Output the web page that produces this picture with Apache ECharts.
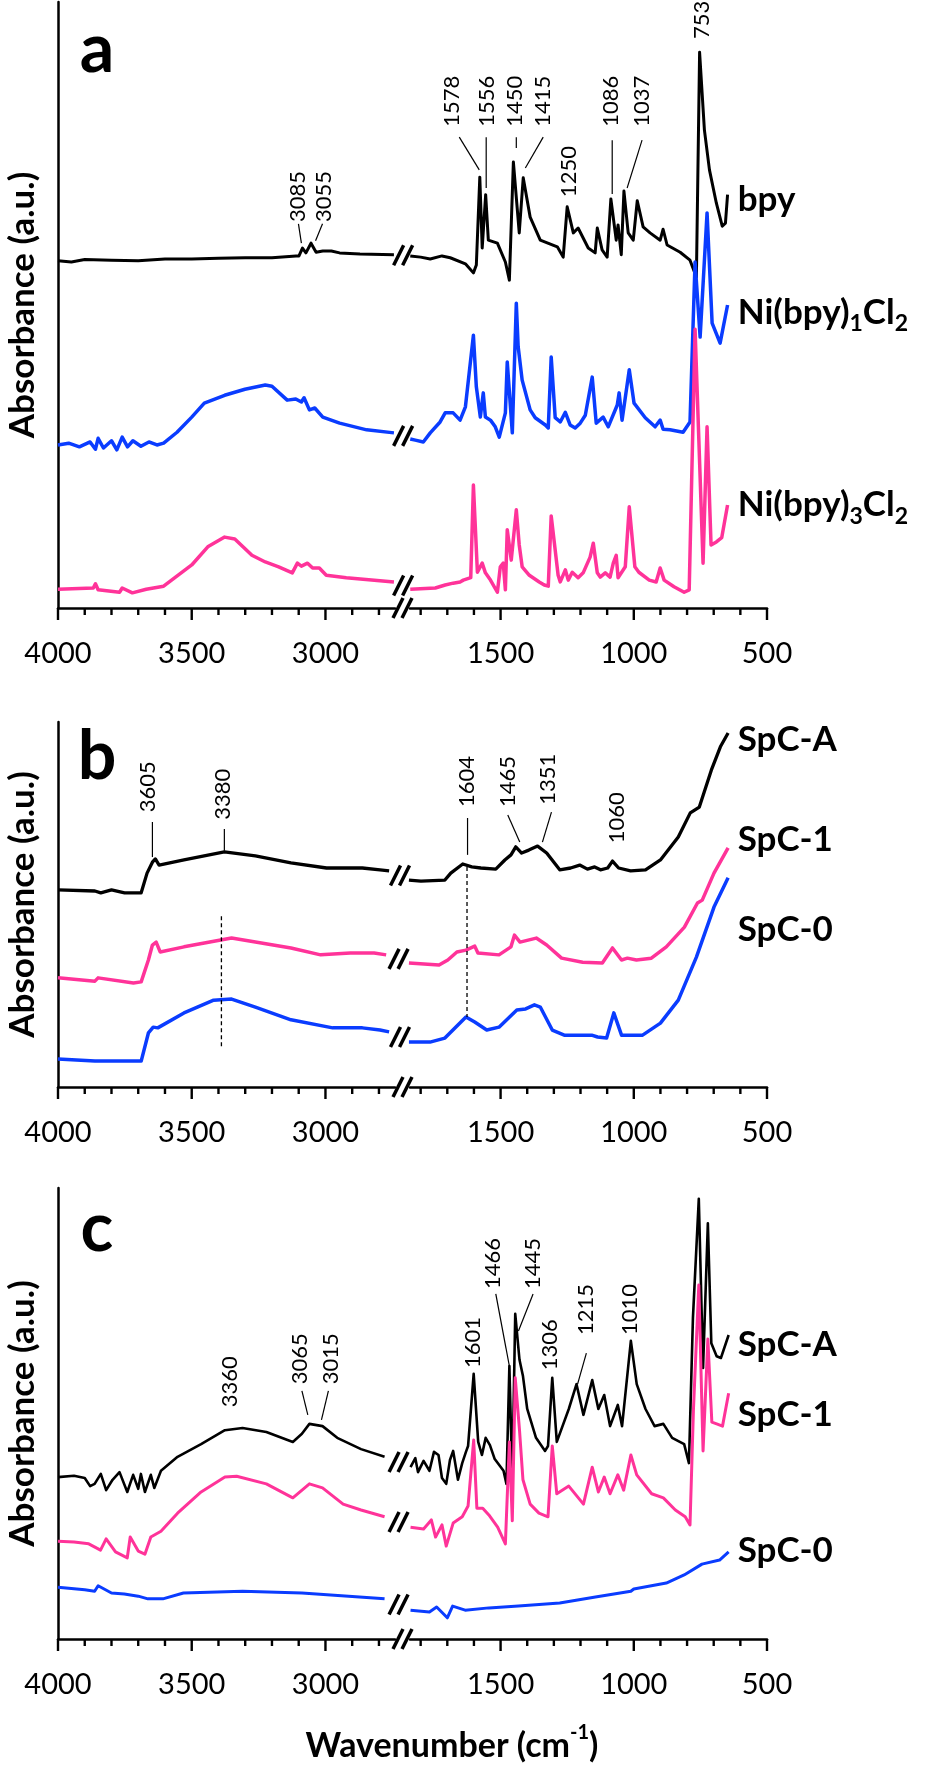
<!DOCTYPE html>
<html>
<head>
<meta charset="utf-8">
<script src="https://cdn.jsdelivr.net/npm/echarts@6/dist/echarts.min.js"></script>
<style>
  html, body { margin: 0; padding: 0; background: #fff; }
  #main { width: 945px; height: 1767px; }
</style>
</head>
<body>
<div id="main"></div>
<script>
// x axis: wavenumber (cm-1), broken between 2740 and 1840
var leftRange = [2740, 4000];
var rightRange = [500, 1840];
var leftLabels = [4000, 3500, 3000];
var leftTicks = [4000, 3900, 3800, 3700, 3600, 3500, 3400, 3300, 3200, 3100, 3000, 2900, 2800];
var rightLabels = [1500, 1000, 500];
var rightTicks = [1800, 1700, 1600, 1500, 1400, 1300, 1200, 1100, 1000, 900, 800, 700, 600, 500];

// ---- panel a (absorbance, a.u.) ----
var bpyLeft = [[4000,57.3],[3950,57.1],[3900,57.5],[3800,57.4],[3700,57.3],[3600,57.6],[3500,57.6],[3400,57.7],[3300,57.8],[3200,57.8],[3110,58.1],[3099,58.1],[3086,59.4],[3073,58.6],[3054,60.2],[3035,58.7],[3010,58.9],[2978,58.9],[2947,58.6],[2871,58.4],[2744,58.3]];
var bpyRight = [[1839,58.1],[1800,57.9],[1764,57.6],[1720,58.1],[1689,57.8],[1632,56.8],[1602,55.3],[1591,56.6],[1578,71.1],[1569,59.4],[1556,68.2],[1546,60.7],[1512,60.2],[1482,57.1],[1467,54.1],[1452,73.6],[1430,61.9],[1415,71.0],[1389,64.5],[1351,60.7],[1287,59.6],[1265,57.9],[1250,66.2],[1227,61.9],[1209,62.7],[1171,59.4],[1145,58.6],[1137,62.7],[1119,59.1],[1100,57.9],[1086,67.5],[1066,60.7],[1059,63.2],[1047,58.3],[1037,68.8],[1021,61.9],[1002,60.7],[987,67.2],[965,62.9],[939,61.9],[901,60.7],[890,62.5],[875,59.9],[826,58.7],[789,57.4],[765,54.6],[753,91.7],[735,78.9],[716,72.3],[690,66.8],[668,63.0],[656,63.5],[648,68.2]];
var ni1Left = [[4000,26.9],[3960,27.2],[3920,26.6],[3880,27.4],[3860,26.2],[3850,28.0],[3830,26.4],[3800,27.6],[3780,26.1],[3760,28.2],[3740,26.6],[3720,27.6],[3690,26.7],[3660,27.4],[3630,26.9],[3605,27.2],[3555,29.0],[3500,31.5],[3453,33.8],[3377,35.1],[3301,36.1],[3225,36.8],[3200,36.6],[3143,34.3],[3111,34.5],[3090,34.0],[3080,34.7],[3060,32.7],[3040,33.0],[3010,31.5],[2947,30.5],[2846,29.4],[2744,28.9]];
var ni1Right = [[1839,27.9],[1820,27.7],[1790,27.4],[1764,28.9],[1727,30.7],[1708,32.2],[1678,32.2],[1652,31.0],[1632,33.2],[1602,45.0],[1591,36.5],[1576,31.5],[1565,35.5],[1557,31.5],[1538,31.0],[1520,29.9],[1505,28.2],[1482,32.2],[1475,40.6],[1456,28.9],[1441,50.3],[1434,43.1],[1419,37.6],[1389,32.7],[1370,31.4],[1332,30.2],[1321,29.7],[1310,41.4],[1295,31.4],[1276,30.7],[1257,32.3],[1239,30.2],[1220,29.7],[1201,30.5],[1182,31.8],[1156,38.1],[1141,30.5],[1115,31.5],[1096,29.9],[1062,33.5],[1055,35.5],[1044,31.0],[1017,39.3],[999,33.8],[957,31.4],[920,29.9],[901,31.0],[890,29.5],[864,29.4],[815,29.0],[789,30.7],[770,57.1],[751,44.7],[725,65.2],[706,47.0],[676,43.7],[648,50.0]];
var ni3Left = [[4000,3.1],[3868,3.3],[3860,4.0],[3850,3.0],[3770,2.6],[3760,3.3],[3722,2.5],[3670,3.1],[3605,3.6],[3500,7.1],[3440,10.1],[3377,11.7],[3339,11.4],[3275,8.7],[3225,7.6],[3175,6.8],[3124,5.8],[3105,7.4],[3090,6.9],[3067,7.4],[3048,6.6],[3023,6.6],[2997,5.4],[2922,5.0],[2744,4.3]];
var ni3Right = [[1839,3.1],[1745,3.3],[1708,3.8],[1678,4.1],[1652,4.3],[1640,4.6],[1612,5.0],[1602,20.3],[1587,5.9],[1569,7.4],[1557,5.8],[1538,4.6],[1512,2.6],[1501,6.8],[1490,7.4],[1482,3.0],[1475,12.9],[1460,7.9],[1441,16.2],[1430,10.4],[1419,6.8],[1392,5.4],[1355,4.3],[1336,3.8],[1321,3.6],[1310,15.2],[1284,5.4],[1276,4.3],[1257,6.3],[1246,4.6],[1231,5.9],[1209,5.0],[1190,5.8],[1164,8.4],[1152,10.7],[1137,5.8],[1126,5.1],[1107,5.8],[1089,5.1],[1077,7.4],[1066,8.7],[1059,5.0],[1032,6.8],[1017,16.7],[996,6.8],[981,5.9],[942,4.6],[916,4.3],[901,6.6],[886,4.6],[849,3.5],[811,2.6],[792,3.0],[770,46.0],[740,7.4],[725,29.9],[710,10.4],[690,10.9],[670,11.6],[648,17.0]];

// ---- panel b ----
var bALeft = [[4000,54.0],[3862,53.7],[3840,53.2],[3800,54.0],[3751,53.2],[3689,53.2],[3667,58.6],[3647,61.6],[3636,62.5],[3622,60.8],[3529,62.2],[3378,64.4],[3262,63.3],[3129,61.4],[2996,60.0],[2862,60.0],[2796,59.5],[2762,59.2]];
var bARight = [[1844,56.7],[1799,56.4],[1709,56.7],[1687,58.6],[1642,61.1],[1608,60.3],[1574,60.0],[1518,59.7],[1484,62.2],[1461,63.6],[1443,65.8],[1421,64.1],[1394,64.9],[1361,66.0],[1327,64.1],[1278,59.5],[1237,60.0],[1203,60.8],[1174,59.7],[1147,60.3],[1125,59.5],[1098,60.0],[1080,61.9],[1057,60.0],[1012,59.2],[956,59.5],[900,62.2],[833,68.5],[788,75.1],[754,76.7],[709,86.8],[675,93.2],[646,97.0]];
var b1Left = [[4000,29.9],[3862,29.0],[3850,29.9],[3718,28.5],[3689,28.8],[3662,34.8],[3647,38.9],[3633,39.7],[3618,37.0],[3529,38.4],[3351,40.8],[3262,39.7],[3129,38.1],[3018,36.2],[2907,36.7],[2818,36.7],[2773,36.2]];
var b1Right = [[1844,34.0],[1731,33.4],[1698,34.8],[1664,37.0],[1630,37.5],[1597,38.6],[1585,36.7],[1506,36.2],[1461,38.4],[1448,41.6],[1427,39.7],[1366,40.8],[1327,38.9],[1271,35.3],[1192,34.2],[1118,34.0],[1080,38.1],[1046,34.8],[1024,35.3],[990,34.8],[934,35.3],[878,38.4],[810,43.8],[761,50.4],[743,51.2],[699,58.6],[646,65.5]];
var b0Left = [[4000,7.7],[3862,7.1],[3751,7.1],[3689,7.1],[3662,14.8],[3644,16.4],[3627,16.2],[3529,20.3],[3418,23.8],[3351,24.1],[3262,21.9],[3129,18.4],[2973,16.2],[2862,16.2],[2796,15.6],[2762,15.1]];
var b0Right = [[1844,12.3],[1765,12.3],[1709,13.4],[1630,19.2],[1597,17.8],[1552,15.6],[1506,16.4],[1439,21.1],[1406,21.4],[1373,22.5],[1351,21.9],[1306,15.6],[1261,14.2],[1192,14.2],[1158,14.2],[1136,13.7],[1102,13.4],[1075,20.3],[1046,14.2],[967,14.2],[900,17.5],[833,23.8],[765,35.6],[699,49.3],[646,57.3]];

// ---- panel c ----
var cALeft = [[4000,35.9],[3940,36.2],[3900,35.7],[3880,33.9],[3863,34.4],[3840,36.6],[3820,33.0],[3796,35.3],[3770,37.0],[3741,32.6],[3719,36.4],[3700,33.3],[3690,36.6],[3675,32.6],[3653,36.4],[3640,33.5],[3615,37.3],[3553,40.4],[3465,43.2],[3376,46.3],[3310,46.8],[3221,45.9],[3122,43.7],[3088,45.5],[3060,47.7],[3011,47.2],[2956,44.6],[2867,42.1],[2779,40.4]];
var cARight = [[1838,38.1],[1820,40.1],[1810,37.0],[1789,39.5],[1767,37.3],[1750,41.5],[1733,40.8],[1720,35.7],[1704,34.4],[1690,39.7],[1678,41.7],[1660,35.3],[1644,39.0],[1630,41.5],[1622,42.8],[1601,58.8],[1584,43.7],[1570,40.8],[1556,44.6],[1540,43.0],[1522,39.9],[1489,37.3],[1478,34.4],[1467,60.5],[1456,35.3],[1445,72.1],[1429,61.9],[1416,58.3],[1400,51.0],[1367,44.6],[1333,41.7],[1322,42.8],[1306,57.9],[1289,43.7],[1244,51.0],[1215,56.5],[1189,49.7],[1156,57.4],[1133,51.0],[1111,54.1],[1089,47.2],[1060,51.9],[1044,47.2],[1011,66.1],[989,56.5],[956,51.0],[922,47.2],[889,47.7],[856,44.6],[811,43.2],[793,39.0],[778,71.2],[756,97.6],[740,60.1],[722,92.2],[709,65.6],[689,62.7],[673,62.3],[644,67.4]];
var c1Left = [[4000,21.7],[3940,21.5],[3885,21.1],[3841,19.7],[3820,22.2],[3785,19.3],[3741,18.0],[3730,22.6],[3700,19.5],[3675,18.8],[3653,22.6],[3615,23.9],[3553,27.9],[3465,32.6],[3376,35.9],[3332,36.1],[3221,34.4],[3122,31.3],[3060,34.4],[3011,33.5],[2934,29.9],[2867,28.6],[2779,27.1]];
var c1Right = [[1838,24.8],[1789,24.4],[1760,26.4],[1744,22.6],[1720,25.3],[1704,20.6],[1678,25.7],[1644,27.1],[1622,29.5],[1601,44.1],[1589,29.0],[1567,29.0],[1544,27.5],[1511,24.8],[1482,21.1],[1467,43.7],[1456,26.2],[1445,57.9],[1429,46.3],[1416,35.3],[1389,29.9],[1356,27.9],[1322,27.1],[1306,42.8],[1289,32.2],[1244,33.9],[1189,29.9],[1156,38.1],[1133,32.6],[1111,35.9],[1089,32.2],[1060,36.4],[1038,33.0],[1011,40.8],[989,36.4],[933,32.2],[889,31.3],[844,28.6],[807,27.1],[789,25.3],[776,51.0],[756,78.5],[740,41.7],[722,66.5],[707,48.1],[689,47.7],[667,47.2],[644,54.5]];
var c0Left = [[4000,11.5],[3900,10.9],[3863,10.6],[3850,11.8],[3800,10.2],[3752,10.0],[3700,9.5],[3664,8.9],[3608,8.9],[3531,10.2],[3310,10.6],[3088,10.2],[2779,8.9]];
var c0Right = [[1838,6.4],[1767,6.0],[1740,7.1],[1700,4.7],[1680,7.3],[1633,6.4],[1544,6.9],[1433,7.3],[1278,8.0],[1144,9.3],[1011,10.6],[1000,11.1],[878,12.4],[811,14.2],[744,16.6],[678,17.5],[644,19.3]];

// peak annotations: text, text x (cm-1), text bottom (a.u.), optional leader from [cm-1, a.u.] to [cm-1, a.u.]
var peaksA = [
  ['3085', 3104, 63.7, [3101, 63.4], [3090, 60.2]],
  ['3055', 3004, 63.7, [3011, 63.4], [3037, 60.6]],
  ['1578', 1681, 79.4, [1655, 77.7], [1580, 72.3]],
  ['1556', 1550, 79.4, [1554, 77.7], [1554, 69.3]],
  ['1450', 1445, 79.4, [1441, 77.7], [1441, 75.9]],
  ['1415', 1340, 79.4, [1340, 77.7], [1407, 72.6]],
  ['1250', 1242, 67.8],
  ['1086', 1085, 79.4, [1081, 77.2], [1081, 68.3]],
  ['1037', 969, 79.4, [969, 77.2], [1025, 69.3]],
  ['753', 744, 93.9]
];
var peaksB = [
  ['3605', 3662, 75.3, [3647, 72.6], [3647, 63.0]],
  ['3380', 3384, 73.2, [3378, 70.7], [3378, 64.7]],
  ['1604', 1626, 76.7, [1624, 73.7], [1624, 63.6]],
  ['1465', 1473, 76.7, [1473, 74.5], [1428, 67.1]],
  ['1351', 1322, 77.3, [1309, 75.3], [1343, 67.1]],
  ['1060', 1062, 66.8]
];
var peaksC = [
  ['3360', 3358, 51.4],
  ['3065', 3095, 56.5, [3088, 55.0], [3066, 49.7]],
  ['3015', 2978, 56.5, [2989, 55.0], [3015, 48.6]],
  ['1601', 1604, 60.1],
  ['1466', 1527, 77.6, [1518, 76.5], [1467, 60.5]],
  ['1445', 1378, 77.6, [1378, 76.5], [1433, 68.3]],
  ['1306', 1316, 59.6],
  ['1215', 1178, 67.4, [1178, 63.4], [1211, 56.5]],
  ['1010', 1016, 67.4]
];
// dashed guide lines in b: cm-1, from a.u., to a.u.
var dashesB = [[3389, 46.8, 10.7], [1626, 60.3, 19.2]];

var BLACK = '#000000', BLUE = '#0a3cff', PINK = '#ff3399';
var FONT = 'Lato, "Liberation Sans", sans-serif';

var panels = [
  { top: 2, height: 606, letter: 'a', letterY: 50, peaks: peaksA, dashes: [],
    lines: [
      { color: BLACK, w: 3, left: bpyLeft, right: bpyRight, label: 'bpy', labelV: 67.3 },
      { color: BLUE, w: 3.5, left: ni1Left, right: ni1Right, label: 'Ni(bpy){s|1}Cl{s|2}', labelV: 48.8 },
      { color: PINK, w: 3.5, left: ni3Left, right: ni3Right, label: 'Ni(bpy){s|3}Cl{s|2}', labelV: 17.0 }
    ] },
  { top: 722, height: 365, letter: 'b', letterY: 757, peaks: peaksB, dashes: dashesB,
    lines: [
      { color: BLACK, w: 3.3, left: bALeft, right: bARight, label: 'SpC-A', labelV: 95.1 },
      { color: PINK, w: 3.5, left: b1Left, right: b1Right, label: 'SpC-1', labelV: 67.7 },
      { color: BLUE, w: 3.5, left: b0Left, right: b0Right, label: 'SpC-0', labelV: 43.0 }
    ] },
  { top: 1188, height: 451, letter: 'c', letterY: 1229, peaks: peaksC, dashes: [],
    lines: [
      { color: BLACK, w: 2.6, left: cALeft, right: cARight, label: 'SpC-A', labelV: 65.2 },
      { color: PINK, w: 3, left: c1Left, right: c1Right, label: 'SpC-1', labelV: 49.7 },
      { color: BLUE, w: 3, left: c0Left, right: c0Right, label: 'SpC-0', labelV: 19.5 }
    ] }
];

var grids = [], xAxes = [], yAxes = [], series = [], gridSeries = [];

function makeX(g, range, labels) {
  xAxes.push({
    gridIndex: g, type: 'value', position: 'bottom', min: range[0], max: range[1], inverse: true,
    splitLine: { show: false },
    axisLine: { show: true, onZero: false, lineStyle: { color: '#000', width: 2.5 } },
    axisTick: { show: false },
    axisLabel: { show: true, customValues: labels, margin: 31, color: '#000', fontSize: 29,
      fontFamily: FONT, formatter: function (v) { return String(v); } }
  });
}

// tick marks drawn as an unclipped line series hanging below the axis line
function tickSeries(g, values, labels, height) {
  var perPx = 100 / height;           // a.u. per pixel in this panel
  var data = [];
  values.forEach(function (v) {
    var len = (labels.indexOf(v) >= 0 ? 12 : 7) * perPx;
    data.push([v, 0], [v, -len], [v, '-']);
  });
  return {
    type: 'line', xAxisIndex: g, yAxisIndex: g, data: data, clip: false,
    showSymbol: false, symbol: 'none', silent: true, connectNulls: false,
    lineStyle: { color: '#000', width: 2.4, cap: 'butt' }, z: 20
  };
}

panels.forEach(function (p, pi) {
  [0, 1].forEach(function (side) {
    var g = pi * 2 + side;
    grids.push(side === 0
      ? { left: 58, width: 337, top: p.top, height: p.height }
      : { left: 410, width: 357, top: p.top, height: p.height });
    makeX(g, side === 0 ? leftRange : rightRange, side === 0 ? leftLabels : rightLabels);
    yAxes.push({
      gridIndex: g, type: 'value', min: 0, max: 100, show: side === 0,
      axisLine: { show: true, lineStyle: { color: '#000', width: 2.5 } },
      axisTick: { show: false }, axisLabel: { show: false }, splitLine: { show: false },
      name: 'Absorbance (a.u.)', nameLocation: 'middle', nameGap: 18,
      nameTextStyle: { color: '#000', fontFamily: FONT, fontWeight: 'bold', fontSize: 35 }
    });
    p.lines.forEach(function (ln, li) {
      if (li === 0) gridSeries[g] = series.length;
      series.push({
        type: 'line', xAxisIndex: g, yAxisIndex: g,
        data: side === 0 ? ln.left : ln.right,
        showSymbol: false, symbol: 'none', silent: true,
        lineStyle: { color: ln.color, width: ln.w, join: 'round' }, z: 3 + li
      });
    });
    series.push(tickSeries(g, side === 0 ? leftTicks : rightTicks,
      side === 0 ? leftLabels : rightLabels, p.height));
  });
});

var chart = echarts.init(document.getElementById('main'));
chart.setOption({
  animation: false,
  backgroundColor: '#fff',
  grid: grids.map(function (g) { return Object.assign({ outerBoundsMode: 'none', containLabel: false }, g); }),
  xAxis: xAxes, yAxis: yAxes, series: series
});

function toPx(g, pt) { return chart.convertToPixel({ seriesIndex: gridSeries[g] }, pt); }

var gfx = [];
function slashes(cx, cy) {
  [-4.5, 4.5].forEach(function (d) {
    var c = cx + d;
    gfx.push({ type: 'line', z: 100, shape: { x1: c - 5, y1: cy + 10, x2: c + 5, y2: cy - 10 },
      style: { stroke: '#000', lineWidth: 3.5 } });
  });
}
function vtext(str, x, y) {
  gfx.push({ type: 'text', z: 100, x: x, y: y, rotation: Math.PI / 2,
    style: { text: str, fill: '#000', fontSize: 22, fontFamily: FONT,
      align: 'left', verticalAlign: 'middle', textAlign: 'left', textVerticalAlign: 'middle' } });
}
function seg(a, b, dash) {
  gfx.push({ type: 'line', z: 100, shape: { x1: a[0], y1: a[1], x2: b[0], y2: b[1] },
    style: { stroke: '#000', lineWidth: dash ? 1.3 : 1.2, lineDash: dash ? [4, 3] : null } });
}

panels.forEach(function (p, pi) {
  var gl = pi * 2, gr = pi * 2 + 1;
  // axis break
  var aL = toPx(gl, [leftRange[0], 0]), aR = toPx(gr, [rightRange[1], 0]);
  slashes((aL[0] + aR[0]) / 2, aL[1]);
  p.lines.forEach(function (ln) {
    var l = toPx(gl, ln.left[ln.left.length - 1]);
    var r = toPx(gr, ln.right[0]);
    slashes((l[0] + r[0]) / 2 + 1, (l[1] + r[1]) / 2);
    var lp = toPx(gr, [610, ln.labelV]);
    gfx.push({ type: 'text', z: 100, x: lp[0], y: lp[1],
      style: { text: ln.label, fill: '#000', fontSize: 35, fontFamily: FONT, fontWeight: 'bold',
        lineHeight: 46, align: 'left', verticalAlign: 'middle', textAlign: 'left', textVerticalAlign: 'middle',
        rich: { s: { fontSize: 23, fontFamily: FONT, fontWeight: 'bold', lineHeight: 22, verticalAlign: 'bottom' } } } });
  });
  p.peaks.forEach(function (pk) {
    var g = pk[1] > 2000 ? gl : gr;
    var t = toPx(g, [pk[1], pk[2]]);
    vtext(pk[0], t[0], t[1]);
    if (pk[3]) seg(toPx(g, pk[3]), toPx(g, pk[4]), false);
  });
  p.dashes.forEach(function (d) {
    var g = d[0] > 2000 ? gl : gr;
    seg(toPx(g, [d[0], d[1]]), toPx(g, [d[0], d[2]]), true);
  });
  gfx.push({ type: 'text', z: 100, x: 97, y: p.letterY,
    style: { text: p.letter, fill: '#000', fontSize: 68, fontFamily: FONT, fontWeight: 'bold',
      align: 'center', verticalAlign: 'middle', textAlign: 'center', textVerticalAlign: 'middle' } });
});

gfx.push({ type: 'text', z: 100, x: 452, y: 1746,
  style: { text: 'Wavenumber (cm{sup|-1})', fill: '#000', fontSize: 34, fontFamily: FONT, fontWeight: 'bold',
    lineHeight: 46, align: 'center', verticalAlign: 'middle', textAlign: 'center', textVerticalAlign: 'middle',
    rich: { sup: { fontSize: 20, fontFamily: FONT, fontWeight: 'bold', lineHeight: 20, verticalAlign: 'top' } } } });

chart.setOption({ graphic: { elements: gfx } });
</script>
</body>
</html>
